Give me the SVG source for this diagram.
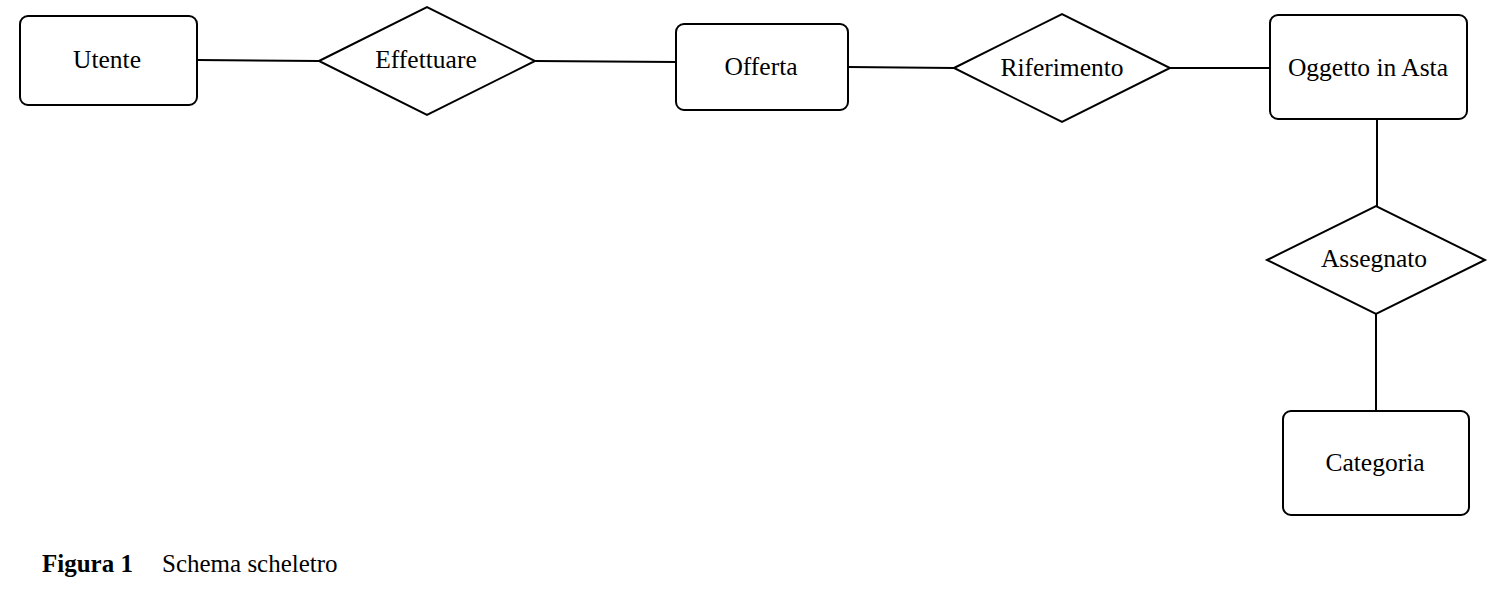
<svg xmlns="http://www.w3.org/2000/svg" width="1510" height="612" viewBox="0 0 1510 612">
<style>
.ent{fill:#fff;stroke:#000;stroke-width:2}
.rel{fill:#fff;stroke:#000;stroke-width:2;stroke-linejoin:miter}
.lbl{font-family:"Liberation Serif","Times New Roman",serif;font-size:25.5px;fill:#000;text-anchor:middle}
.conn line{stroke:#000;stroke-width:2}
.cap{font-family:"Liberation Serif","Times New Roman",serif;font-size:25px;fill:#000}
</style>
<rect width="1510" height="612" fill="#fff"/>
<g id="connectors" class="conn">
<line x1="197" y1="60" x2="319" y2="61"/>
<line x1="535" y1="61" x2="676" y2="62"/>
<line x1="848" y1="67" x2="954" y2="68"/>
<line x1="1170" y1="68" x2="1270" y2="68"/>
<line x1="1377" y1="119" x2="1377" y2="206"/>
<line x1="1376" y1="314" x2="1376" y2="411"/>
</g>
<g id="utente"><rect class="ent" x="20" y="16" width="177" height="89" rx="8"/><text class="lbl" x="107" y="68">Utente</text></g>
<g id="effettuare"><polygon class="rel" points="319,61 427,7 535,61 427,115"/><text class="lbl" x="426" y="68">Effettuare</text></g>
<g id="offerta"><rect class="ent" x="676" y="24" width="172" height="86" rx="8"/><text class="lbl" x="761" y="75">Offerta</text></g>
<g id="riferimento"><polygon class="rel" points="954,68 1062,14 1170,68 1062,122"/><text class="lbl" x="1062" y="76">Riferimento</text></g>
<g id="oggetto"><rect class="ent" x="1270" y="15" width="197" height="104" rx="8"/><text class="lbl" x="1368" y="76">Oggetto in Asta</text></g>
<g id="assegnato"><polygon class="rel" points="1267,260 1376,206 1485,260 1376,314"/><text class="lbl" x="1374" y="267">Assegnato</text></g>
<g id="categoria"><rect class="ent" x="1283" y="411" width="186" height="104" rx="8"/><text class="lbl" x="1375" y="471">Categoria</text></g>
<g id="caption"><text class="cap" x="42" y="572" font-weight="bold">Figura 1</text><text class="cap" x="162" y="572">Schema scheletro</text></g>
</svg>
